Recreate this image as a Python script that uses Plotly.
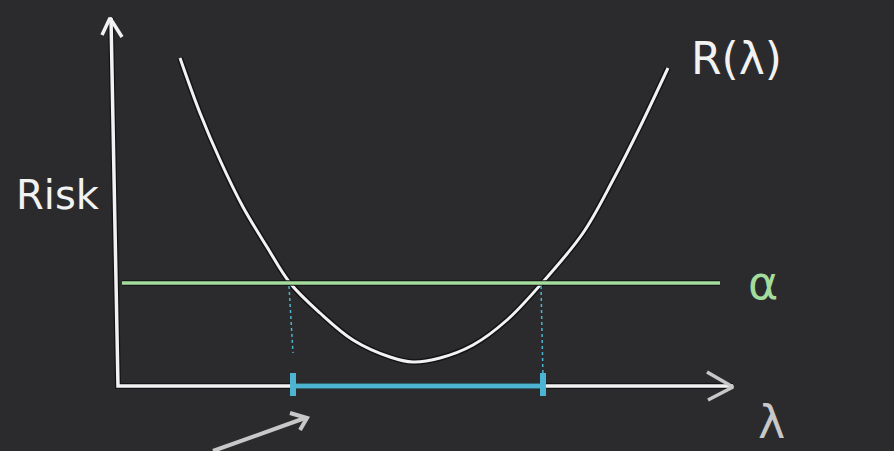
import plotly.graph_objects as go

# Coordinate system: origin at the axes corner, units ~ pixels of the drawing
lam = [62, 82, 102, 125, 149, 172, 202, 235, 272, 295, 322, 355, 389, 424, 465, 495, 522, 550]
risk = [328, 273, 226, 179, 139, 103, 73, 46, 29, 24, 28, 41, 66, 103, 153, 206, 259, 318]
alpha = 103
interval = [175, 425]
cross_lam = [171, 423]
dot_end = [33, 8]

BG = "#2b2b2d"
WHITE = "#f2f2f2"
GREEN = "#a3dc9c"
BLUE = "#4db5d1"
GRAY = "#c8c8c8"
DARK = "#141416"

fig = go.Figure()

def line(x, y, color, width, dash=None, shape="linear"):
    fig.add_trace(go.Scatter(x=x, y=y, mode="lines", hoverinfo="skip",
                             line=dict(color=color, width=width, dash=dash, shape=shape)))

# axes
line([-7, 0, 615], [368, 0, 0], DARK, 6)
line([-7, 0, 615], [368, 0, 0], WHITE, 3.5)
line([-16, -8, 4], [351, 368, 349], WHITE, 3.5)
line([589, 615, 590], [14, -1, -14], GRAY, 3.5)

# curve
line(lam, risk, DARK, 6, shape="spline")
line(lam, risk, WHITE, 3, shape="spline")

# alpha line
line([4, 602], [alpha, alpha], DARK, 5.5)
line([4, 602], [alpha, alpha], GREEN, 3.5)

# dotted projections
for cx, ix, de in zip(cross_lam, interval, dot_end):
    line([cx, ix], [alpha - 3, de], BLUE, 1.5, "dot")

# interval
line(interval, [0, 0], BLUE, 5)
for ix in interval:
    line([ix, ix], [13, -10], BLUE, 6)

# bottom arrow
line([95, 187], [-65, -32], GRAY, 4)
line([172, 189, 182], [-27, -32, -44], GRAY, 4)

fig.add_annotation(x=-60, y=191, text="Risk", showarrow=False,
                   font=dict(family="DejaVu Sans", size=40, color=WHITE))
fig.add_annotation(x=618, y=328, text="R(λ)", showarrow=False,
                   font=dict(family="DejaVu Sans", size=44, color=WHITE))
fig.add_annotation(x=645, y=103, text="α", showarrow=False,
                   font=dict(family="DejaVu Sans", size=46, color=GREEN))
fig.add_annotation(x=653, y=-36, text="λ", showarrow=False,
                   font=dict(family="DejaVu Sans", size=46, color=GRAY))

fig.update_layout(
    width=894, height=451,
    margin=dict(l=0, r=0, t=0, b=0),
    paper_bgcolor=BG, plot_bgcolor=BG,
    showlegend=False,
    xaxis=dict(range=[-118, 776], visible=False, fixedrange=True),
    yaxis=dict(range=[-65, 386], visible=False, fixedrange=True),
)

fig.write_html(
    "out.html",
    config={"displayModeBar": False, "staticPlot": True},
    post_script="document.body.style.margin='0';document.body.style.background='%s';" % BG,
)
